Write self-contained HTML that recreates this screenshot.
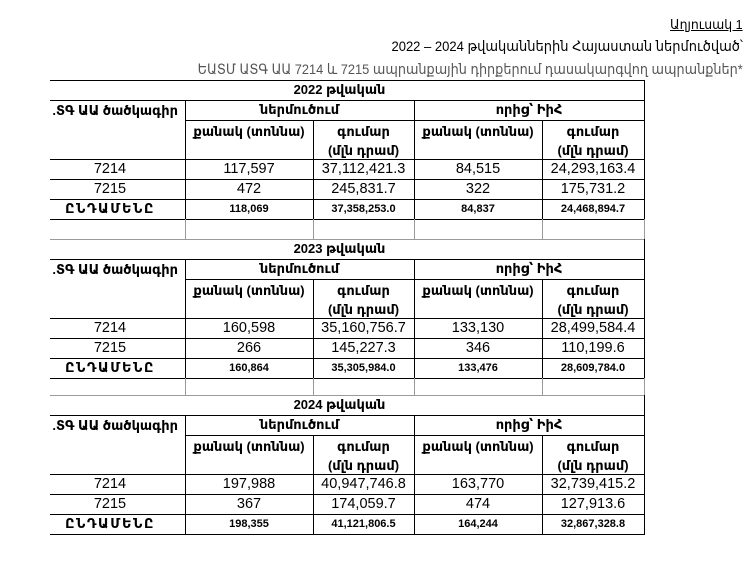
<!DOCTYPE html>
<html><head><meta charset="utf-8">
<style>
*{margin:0;padding:0;box-sizing:border-box}
html,body{width:746px;height:562px;background:#fff;overflow:hidden}
body{position:relative;font-family:"Liberation Sans","DejaVu Sans",sans-serif;color:#000}
.h{position:absolute;height:1px;background:#000}
.v{position:absolute;width:1px;background:#000}
.g{background:#9a9a9a}
.t{position:absolute;display:flex;align-items:center;justify-content:center;white-space:nowrap;height:20px}
.d{font-size:14.5px}
.b{font-size:11px;font-weight:bold}
.hd{font-size:13px;font-weight:bold}
.yr{font-size:13px;font-weight:bold}
.tot{font-size:13px;font-weight:bold;letter-spacing:1.6px}
.r{position:absolute;right:3px;white-space:nowrap;text-align:right;transform-origin:right center}
</style></head><body>

<div class="r" style="top:17px;font-size:13px;text-decoration:underline;transform:scaleX(0.96)">Աղյուսակ 1</div>
<div class="r" style="top:38px;font-size:14px;transform:scaleX(0.93)">2022 – 2024 թվականներին Հայաստան ներմուծված՝</div>
<div class="r" style="top:61px;font-size:14px;color:#555;transform:scaleX(0.915)">ԵԱՏՄ ԱՏԳ ԱԱ 7214 և 7215 ապրանքային դիրքերում դասակարգվող ապրանքներ*</div>

<!-- horizontal lines -->
<div class="h" style="left:50px;width:595px;top:80px"></div>
<div class="h" style="left:50px;width:595px;top:100px"></div>
<div class="h" style="left:185px;width:460px;top:120px"></div>
<div class="h" style="left:50px;width:595px;top:159px"></div>
<div class="h" style="left:50px;width:595px;top:179px"></div>
<div class="h" style="left:50px;width:595px;top:199px"></div>
<div class="h" style="left:50px;width:595px;top:219px"></div>
<div class="h g" style="left:50px;width:595px;top:239px"></div>
<div class="h" style="left:50px;width:595px;top:259px"></div>
<div class="h" style="left:185px;width:460px;top:279px"></div>
<div class="h" style="left:50px;width:595px;top:318px"></div>
<div class="h" style="left:50px;width:595px;top:338px"></div>
<div class="h" style="left:50px;width:595px;top:358px"></div>
<div class="h" style="left:50px;width:595px;top:378px"></div>
<div class="h g" style="left:50px;width:595px;top:395px"></div>
<div class="h" style="left:50px;width:595px;top:415px"></div>
<div class="h" style="left:185px;width:460px;top:435px"></div>
<div class="h" style="left:50px;width:595px;top:474px"></div>
<div class="h" style="left:50px;width:595px;top:494px"></div>
<div class="h" style="left:50px;width:595px;top:514px"></div>
<div class="h" style="left:50px;width:595px;top:534px"></div>

<!-- vertical lines x=185 -->
<div class="v" style="left:185px;top:100px;height:119px"></div>
<div class="v g" style="left:185px;top:219px;height:20px"></div>
<div class="v" style="left:185px;top:259px;height:119px"></div>
<div class="v g" style="left:185px;top:378px;height:17px"></div>
<div class="v" style="left:185px;top:415px;height:119px"></div>
<!-- x=313 -->
<div class="v" style="left:313px;top:120px;height:99px"></div>
<div class="v g" style="left:313px;top:219px;height:20px"></div>
<div class="v" style="left:313px;top:279px;height:99px"></div>
<div class="v g" style="left:313px;top:378px;height:17px"></div>
<div class="v" style="left:313px;top:435px;height:99px"></div>
<!-- x=414 -->
<div class="v" style="left:414px;top:100px;height:119px"></div>
<div class="v g" style="left:414px;top:219px;height:20px"></div>
<div class="v" style="left:414px;top:259px;height:119px"></div>
<div class="v g" style="left:414px;top:378px;height:17px"></div>
<div class="v" style="left:414px;top:415px;height:119px"></div>
<!-- x=542 -->
<div class="v" style="left:542px;top:120px;height:99px"></div>
<div class="v g" style="left:542px;top:219px;height:20px"></div>
<div class="v" style="left:542px;top:279px;height:99px"></div>
<div class="v g" style="left:542px;top:378px;height:17px"></div>
<div class="v" style="left:542px;top:435px;height:99px"></div>
<!-- x=644 -->
<div class="v" style="left:644px;top:80px;height:139px"></div>
<div class="v g" style="left:644px;top:219px;height:20px"></div>
<div class="v" style="left:644px;top:239px;height:139px"></div>
<div class="v g" style="left:644px;top:378px;height:17px"></div>
<div class="v" style="left:644px;top:395px;height:140px"></div>

<!-- ===== 2022 ===== -->
<div class="t yr" style="left:35px;width:609px;top:80px">2022 թվական</div>
<div class="t hd" style="left:0;width:178px;top:101px;justify-content:flex-end">.ՏԳ ԱԱ ծածկագիր</div>
<div class="t hd" style="left:185px;width:229px;top:100px">ներմուծում</div>
<div class="t hd" style="left:414px;width:230px;top:100px">որից՝ ԻիՀ</div>
<div class="t hd" style="left:185px;width:128px;top:122px">քանակ (տոննա)</div>
<div class="t hd" style="left:313px;width:101px;top:122px">գումար</div>
<div class="t hd" style="left:313px;width:101px;top:141px">(մլն դրամ)</div>
<div class="t hd" style="left:414px;width:128px;top:122px">քանակ (տոննա)</div>
<div class="t hd" style="left:542px;width:102px;top:122px">գումար</div>
<div class="t hd" style="left:542px;width:102px;top:141px">(մլն դրամ)</div>

<div class="t d" style="left:35px;width:150px;top:159px">7214</div>
<div class="t d" style="left:185px;width:128px;top:159px">117,597</div>
<div class="t d" style="left:313px;width:101px;top:159px">37,112,421.3</div>
<div class="t d" style="left:414px;width:128px;top:159px">84,515</div>
<div class="t d" style="left:542px;width:102px;top:159px">24,293,163.4</div>

<div class="t d" style="left:35px;width:150px;top:179px">7215</div>
<div class="t d" style="left:185px;width:128px;top:179px">472</div>
<div class="t d" style="left:313px;width:101px;top:179px">245,831.7</div>
<div class="t d" style="left:414px;width:128px;top:179px">322</div>
<div class="t d" style="left:542px;width:102px;top:179px">175,731.2</div>

<div class="t tot" style="left:35px;width:150px;top:199px">ԸՆԴԱՄԵՆԸ</div>
<div class="t b" style="left:185px;width:128px;top:199px">118,069</div>
<div class="t b" style="left:313px;width:101px;top:199px">37,358,253.0</div>
<div class="t b" style="left:414px;width:128px;top:199px">84,837</div>
<div class="t b" style="left:542px;width:102px;top:199px">24,468,894.7</div>

<!-- ===== 2023 ===== -->
<div class="t yr" style="left:35px;width:609px;top:239px">2023 թվական</div>
<div class="t hd" style="left:0;width:178px;top:260px;justify-content:flex-end">.ՏԳ ԱԱ ծածկագիր</div>
<div class="t hd" style="left:185px;width:229px;top:259px">ներմուծում</div>
<div class="t hd" style="left:414px;width:230px;top:259px">որից՝ ԻիՀ</div>
<div class="t hd" style="left:185px;width:128px;top:281px">քանակ (տոննա)</div>
<div class="t hd" style="left:313px;width:101px;top:281px">գումար</div>
<div class="t hd" style="left:313px;width:101px;top:300px">(մլն դրամ)</div>
<div class="t hd" style="left:414px;width:128px;top:281px">քանակ (տոննա)</div>
<div class="t hd" style="left:542px;width:102px;top:281px">գումար</div>
<div class="t hd" style="left:542px;width:102px;top:300px">(մլն դրամ)</div>

<div class="t d" style="left:35px;width:150px;top:318px">7214</div>
<div class="t d" style="left:185px;width:128px;top:318px">160,598</div>
<div class="t d" style="left:313px;width:101px;top:318px">35,160,756.7</div>
<div class="t d" style="left:414px;width:128px;top:318px">133,130</div>
<div class="t d" style="left:542px;width:102px;top:318px">28,499,584.4</div>

<div class="t d" style="left:35px;width:150px;top:338px">7215</div>
<div class="t d" style="left:185px;width:128px;top:338px">266</div>
<div class="t d" style="left:313px;width:101px;top:338px">145,227.3</div>
<div class="t d" style="left:414px;width:128px;top:338px">346</div>
<div class="t d" style="left:542px;width:102px;top:338px">110,199.6</div>

<div class="t tot" style="left:35px;width:150px;top:358px">ԸՆԴԱՄԵՆԸ</div>
<div class="t b" style="left:185px;width:128px;top:358px">160,864</div>
<div class="t b" style="left:313px;width:101px;top:358px">35,305,984.0</div>
<div class="t b" style="left:414px;width:128px;top:358px">133,476</div>
<div class="t b" style="left:542px;width:102px;top:358px">28,609,784.0</div>

<!-- ===== 2024 ===== -->
<div class="t yr" style="left:35px;width:609px;top:395px">2024 թվական</div>
<div class="t hd" style="left:0;width:178px;top:416px;justify-content:flex-end">.ՏԳ ԱԱ ծածկագիր</div>
<div class="t hd" style="left:185px;width:229px;top:415px">ներմուծում</div>
<div class="t hd" style="left:414px;width:230px;top:415px">որից՝ ԻիՀ</div>
<div class="t hd" style="left:185px;width:128px;top:437px">քանակ (տոննա)</div>
<div class="t hd" style="left:313px;width:101px;top:437px">գումար</div>
<div class="t hd" style="left:313px;width:101px;top:456px">(մլն դրամ)</div>
<div class="t hd" style="left:414px;width:128px;top:437px">քանակ (տոննա)</div>
<div class="t hd" style="left:542px;width:102px;top:437px">գումար</div>
<div class="t hd" style="left:542px;width:102px;top:456px">(մլն դրամ)</div>

<div class="t d" style="left:35px;width:150px;top:474px">7214</div>
<div class="t d" style="left:185px;width:128px;top:474px">197,988</div>
<div class="t d" style="left:313px;width:101px;top:474px">40,947,746.8</div>
<div class="t d" style="left:414px;width:128px;top:474px">163,770</div>
<div class="t d" style="left:542px;width:102px;top:474px">32,739,415.2</div>

<div class="t d" style="left:35px;width:150px;top:494px">7215</div>
<div class="t d" style="left:185px;width:128px;top:494px">367</div>
<div class="t d" style="left:313px;width:101px;top:494px">174,059.7</div>
<div class="t d" style="left:414px;width:128px;top:494px">474</div>
<div class="t d" style="left:542px;width:102px;top:494px">127,913.6</div>

<div class="t tot" style="left:35px;width:150px;top:514px">ԸՆԴԱՄԵՆԸ</div>
<div class="t b" style="left:185px;width:128px;top:514px">198,355</div>
<div class="t b" style="left:313px;width:101px;top:514px">41,121,806.5</div>
<div class="t b" style="left:414px;width:128px;top:514px">164,244</div>
<div class="t b" style="left:542px;width:102px;top:514px">32,867,328.8</div>

</body></html>
